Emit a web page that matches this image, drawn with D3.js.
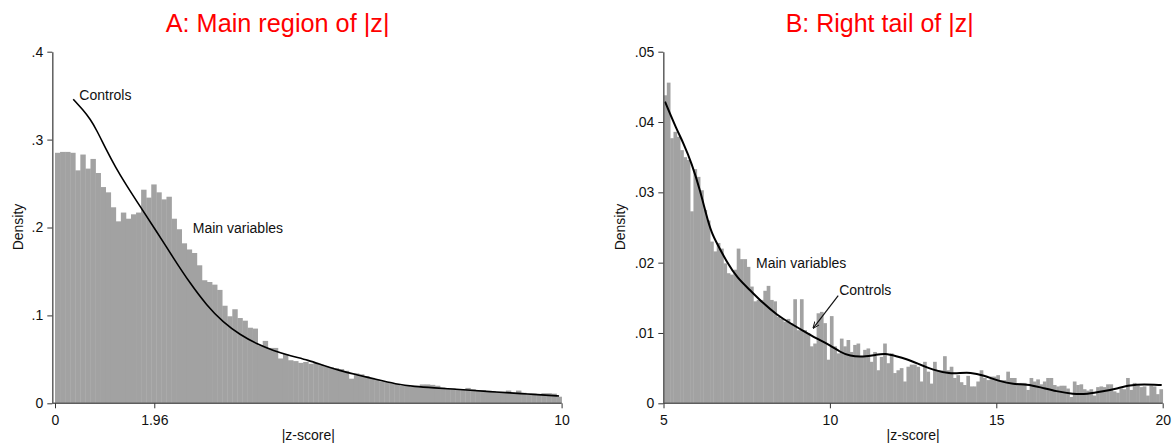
<!DOCTYPE html>
<html>
<head>
<meta charset="utf-8">
<script src="https://cdn.jsdelivr.net/npm/d3@7/dist/d3.min.js"></script>
<style>
  html, body { margin: 0; padding: 0; background: #fff; }
  svg { display: block; }
  text { font-family: "Liberation Sans", Arial, sans-serif; fill: #111; }
</style>
</head>
<body>
<svg id="chart" width="1175" height="445"></svg>
<script>
// ---------------- DATA ----------------
// Panel A: histogram of |z| for main variables, bins of width 0.1 from 0 to 10
const binWidth = 0.1;
const mainA = [
  0.285, 0.286, 0.286, 0.285, 0.265, 0.283, 0.267, 0.278, 0.262, 0.246,
  0.240, 0.223, 0.207, 0.217, 0.210, 0.215, 0.217, 0.243, 0.234, 0.249,
  0.240, 0.232, 0.235, 0.210, 0.198, 0.182, 0.175, 0.171, 0.157, 0.140,
  0.138, 0.135, 0.129, 0.111, 0.099, 0.107, 0.097, 0.094, 0.086, 0.085,
  0.066, 0.071, 0.063, 0.063, 0.051, 0.056, 0.049, 0.048, 0.046, 0.047,
  0.045, 0.046, 0.044, 0.042, 0.041, 0.040, 0.039, 0.037, 0.028, 0.034,
  0.033, 0.031, 0.029, 0.027, 0.025, 0.024, 0.023, 0.022, 0.020, 0.020,
  0.019, 0.019, 0.0215, 0.0215, 0.021, 0.020, 0.018, 0.017, 0.017, 0.016,
  0.016, 0.0175, 0.016, 0.015, 0.015, 0.014, 0.014, 0.013, 0.013, 0.0145,
  0.012, 0.0145, 0.012, 0.011, 0.011, 0.010, 0.0115, 0.0115, 0.011, 0.0075
];
const mainAStart = 0;

// Panel A: kernel density of controls
const controlsAz = [0.36, 0.55, 0.7, 0.82, 1.0, 1.2, 1.4, 1.68, 2.0, 2.34, 2.66, 3.0, 3.32, 3.65, 4.0, 4.31, 4.65, 5.0, 5.3, 5.63, 6.0, 6.35, 6.72, 7.1, 7.5, 7.84, 8.2, 8.58, 9.0, 9.32, 9.7, 9.95];
const controlsAd = [0.346, 0.334, 0.323, 0.311, 0.290, 0.268, 0.249, 0.224, 0.196, 0.165, 0.137, 0.111, 0.092, 0.078, 0.067, 0.060, 0.054, 0.049, 0.043, 0.037, 0.032, 0.027, 0.022, 0.019, 0.0175, 0.0163, 0.0148, 0.0133, 0.0118, 0.0106, 0.0092, 0.0083];

// Panel B: histogram of |z| for main variables, bins of width 0.1 from 5 to 20
const mainB = [
  0.0438, 0.0456, 0.0377, 0.0386, 0.0379, 0.0360, 0.0350, 0.0346, 0.0273, 0.0333,
  0.0322, 0.0303, 0.0275, 0.0260, 0.0230, 0.0216, 0.0228, 0.0220, 0.0199, 0.0185,
  0.0183, 0.0190, 0.0220, 0.0205, 0.0205, 0.0194, 0.0166, 0.0145, 0.0147, 0.0147,
  0.0160, 0.0167, 0.0147, 0.0145, 0.0123, 0.0120, 0.0116, 0.0120, 0.0114, 0.0148,
  0.0104, 0.0148, 0.0104, 0.0100, 0.0081, 0.0085, 0.0128, 0.0130, 0.0114, 0.0062,
  0.0124, 0.0081, 0.0071, 0.0092, 0.0081, 0.0090, 0.0073, 0.0083, 0.0085, 0.0066,
  0.0076, 0.0078, 0.0059, 0.0073, 0.0047, 0.0066, 0.0085, 0.0057, 0.0071, 0.0043,
  0.0047, 0.0050, 0.0031, 0.0052, 0.0055, 0.0055, 0.0052, 0.0031, 0.0059, 0.0045,
  0.0028, 0.0059, 0.0047, 0.0047, 0.0067, 0.0047, 0.0052, 0.0036, 0.0040, 0.0030,
  0.0026, 0.0039, 0.0024, 0.0024, 0.0031, 0.0047, 0.0036, 0.0033, 0.0038, 0.0038,
  0.0040, 0.0033, 0.0033, 0.0045, 0.0036, 0.0036, 0.0028, 0.0029, 0.0029, 0.0019,
  0.0036, 0.0031, 0.0034, 0.0027, 0.0031, 0.0036, 0.0036, 0.0026, 0.0024, 0.0025,
  0.0025, 0.0021, 0.0009, 0.0031, 0.0026, 0.0027, 0.0020, 0.0018, 0.0020, 0.0011,
  0.0023, 0.0024, 0.0023, 0.0027, 0.0027, 0.0017, 0.0015, 0.0021, 0.0020, 0.0036,
  0.0019, 0.0029, 0.0025, 0.0023, 0.0024, 0.0011, 0.0025, 0.0024, 0.0013, 0.0020
];
const mainBStart = 5;

// Panel B: kernel density of controls
const controlsBz = [5.045, 5.4, 5.6, 5.85, 6.1, 6.3, 6.45, 6.6, 6.9, 7.22, 7.6, 8.0, 8.4, 8.8, 9.2, 9.6, 10.0, 10.3, 10.6, 11.0, 11.4, 11.65, 12.0, 12.3, 12.61, 13.11, 13.61, 13.91, 14.21, 14.61, 15.11, 15.51, 15.91, 16.31, 16.81, 17.31, 17.72, 18.22, 18.62, 19.02, 19.42, 19.97];
const controlsBd = [0.0429, 0.0389, 0.0370, 0.0341, 0.0303, 0.0265, 0.0242, 0.0228, 0.0201, 0.0178, 0.0161, 0.0142, 0.0126, 0.0114, 0.0103, 0.0092, 0.0083, 0.0073, 0.0067, 0.0066, 0.0069, 0.0071, 0.0067, 0.0063, 0.0057, 0.0047, 0.0042, 0.0043, 0.0044, 0.0040, 0.0031, 0.0027, 0.0027, 0.0023, 0.0017, 0.0013, 0.0013, 0.0017, 0.0021, 0.0026, 0.0027, 0.0026];

// Ticks
const yTicksA = [0, 0.1, 0.2, 0.3, 0.4];
const yTickLabelsA = ["0", ".1", ".2", ".3", ".4"];
const xTicksA = [0, 1.96, 10];
const xTickLabelsA = ["0", "1.96", "10"];
const yTicksB = [0, 0.01, 0.02, 0.03, 0.04, 0.05];
const yTickLabelsB = ["0", ".01", ".02", ".03", ".04", ".05"];
const xTicksB = [5, 10, 15, 20];
const xTickLabelsB = ["5", "10", "15", "20"];

// Annotations: [label, z, density]
const labelsA = [["Controls", 0.48, 0.3445], ["Main variables", 2.72, 0.194]];
const labelsB = [["Main variables", 7.78, 0.0193], ["Controls", 10.28, 0.0154]];
const arrowB = { from: [10.25, 0.0153], to: [9.5, 0.0107] };

const titles = ["A: Main region of |z|", "B: Right tail of |z|"];

// ---------------- DRAW ----------------
const svg = d3.select("#chart");
const defs = svg.append("defs");
defs.append("marker")
  .attr("id", "arrowhead").attr("viewBox", "0 0 10 10")
  .attr("refX", 9).attr("refY", 5)
  .attr("markerWidth", 7).attr("markerHeight", 7)
  .attr("orient", "auto-start-reverse").attr("markerUnits", "userSpaceOnUse")
  .append("path").attr("d", "M0,1 L10,5 L0,9").attr("fill", "none")
  .attr("stroke", "#111").attr("stroke-width", 1.3);

function panel(cfg) {
  const g = svg.append("g");
  const x = d3.scaleLinear().domain(cfg.xDomain).range(cfg.xRange);
  const y = d3.scaleLinear().domain(cfg.yDomain).range([403.3, 51.7]);

  // bars
  const bins = cfg.values.map((v, i) => ({ x0: cfg.start + i * binWidth, x1: cfg.start + (i + 1) * binWidth, v }));
  g.append("g").selectAll("rect").data(bins).join("rect")
    .attr("x", d => x(d.x0))
    .attr("width", d => x(d.x1) - x(d.x0) + 0.35)
    .attr("y", d => y(d.v))
    .attr("height", d => y(0) - y(d.v))
    .attr("fill", "#a2a2a2");

  // controls line
  const line = d3.line().x(d => x(d[0])).y(d => y(d[1])).curve(d3.curveBasis);
  g.append("path")
    .datum(cfg.cz.map((z, i) => [z, cfg.cd[i]]))
    .attr("d", line).attr("fill", "none")
    .attr("stroke", "#000").attr("stroke-width", cfg.lw);

  // axes
  const yAxis = d3.axisLeft(y).tickValues(cfg.yTicks)
    .tickFormat((d, i) => cfg.yLabels[i]).tickSize(5).tickSizeOuter(0).tickPadding(4);
  const ya = g.append("g").attr("transform", `translate(${cfg.yAxisX},0)`).call(yAxis);
  const xAxis = d3.axisBottom(x).tickValues(cfg.xTicks)
    .tickFormat((d, i) => cfg.xLabels[i]).tickSize(5).tickSizeOuter(0).tickPadding(7);
  const xa = g.append("g").attr("transform", `translate(0,403.3)`).call(xAxis);
  xa.select(".domain").attr("d", `M${cfg.yAxisX},0H${cfg.xRange[1]}`);
  [ya, xa].forEach(a => {
    a.selectAll(".domain").attr("stroke", "#5e5e5e").attr("stroke-width", 1.5);
    a.selectAll(".tick line").attr("stroke", "#333").attr("stroke-width", 1);
    a.selectAll("text").attr("font-size", 14).attr("font-family", '"Liberation Sans", Arial, sans-serif').attr("fill", "#111");
  });

  // axis titles
  g.append("text").attr("transform", `translate(${cfg.yTitleX},227) rotate(-90)`)
    .attr("text-anchor", "middle").attr("dominant-baseline", "central")
    .attr("font-size", 14).text("Density");
  g.append("text").attr("x", (cfg.xRange[0] + cfg.xRange[1]) / 2).attr("y", 440)
    .attr("text-anchor", "middle").attr("font-size", 14).text("|z-score|");

  // labels
  cfg.labels.forEach(l => {
    g.append("text").attr("x", x(l[1])).attr("y", y(l[2]))
      .attr("font-size", 14).text(l[0]);
  });
  if (cfg.arrow) {
    g.append("line")
      .attr("x1", x(cfg.arrow.from[0])).attr("y1", y(cfg.arrow.from[1]))
      .attr("x2", x(cfg.arrow.to[0])).attr("y2", y(cfg.arrow.to[1]))
      .attr("stroke", "#111").attr("stroke-width", 1.2)
      .attr("marker-end", "url(#arrowhead)");
  }

  // title
  const t = svg.append("text").attr("x", cfg.titleX).attr("y", 31.7)
    .attr("font-family", "Lato, 'Open Sans', sans-serif").attr("font-size", 24)
    .style("fill", "#ff0000").text(cfg.title);
  const w = t.node().getComputedTextLength();
  t.attr("font-size", 24 * cfg.titleW / w);
}

panel({
  xDomain: [0, 10], xRange: [55, 561.6], yDomain: [0, 0.4], yAxisX: 52.3,
  values: mainA, start: mainAStart, cz: controlsAz, cd: controlsAd, lw: 1.6,
  yTicks: yTicksA, yLabels: yTickLabelsA, xTicks: xTicksA, xLabels: xTickLabelsA,
  yTitleX: 18, labels: labelsA, arrow: null,
  title: titles[0], titleX: 165.7, titleW: 224
});
panel({
  xDomain: [5, 20], xRange: [663.5, 1162.7], yDomain: [0, 0.05], yAxisX: 663.3,
  values: mainB, start: mainBStart, cz: controlsBz, cd: controlsBd, lw: 2,
  yTicks: yTicksB, yLabels: yTickLabelsB, xTicks: xTicksB, xLabels: xTickLabelsB,
  yTitleX: 620, labels: labelsB, arrow: arrowB,
  title: titles[1], titleX: 785.7, titleW: 188
});
</script>
</body>
</html>
